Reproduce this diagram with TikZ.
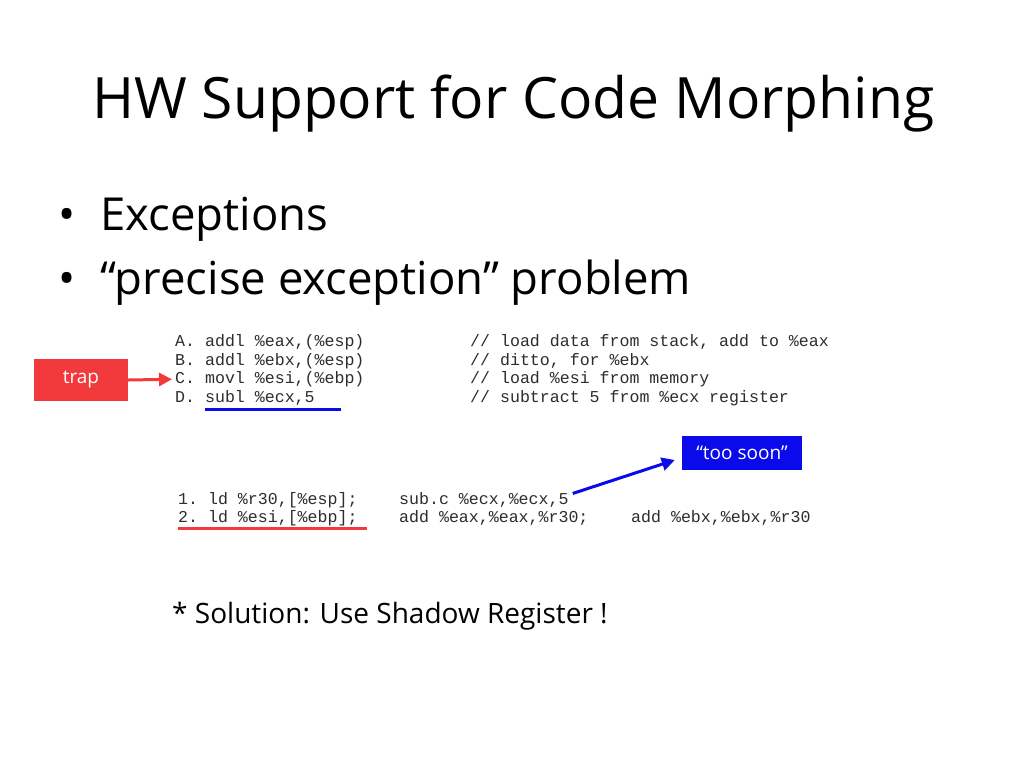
\documentclass[tikz,border=0pt]{standalone}
\usepackage{fontspec}
\setmainfont{Open Sans}
\setmonofont{Liberation Mono}
\usetikzlibrary{arrows.meta,positioning}

\definecolor{trapred}{RGB}{242,58,60}
\definecolor{soonblue}{RGB}{10,10,235}
\definecolor{codegray}{RGB}{45,45,45}

\tikzset{
  slidetext/.style={anchor=base west,inner sep=0pt},
  codeline/.style={anchor=base west,inner sep=0pt,text=codegray,
    font=\ttfamily\fontsize{16.6}{18}\selectfont},
  flagbox/.style={fill=#1,text=white,inner sep=0pt,
    font=\fontsize{19}{21}\selectfont},
  pointer/.style={#1,line width=3pt,-{Triangle[length=13pt,width=13pt]}},
}

\begin{document}
\begin{tikzpicture}[x=1pt,y=-1pt]
  \useasboundingbox[fill=white] (0,0) rectangle (1024,768);

  \node[slidetext,font=\fontsize{57}{64}\selectfont] (title) at (92,118) {HW Support for Code Morphing};

  \foreach \n/\y/\txt in {1/230/Exceptions,2/294/{“precise exception” problem}}{
    \node[slidetext,font=\fontsize{45.5}{50}\selectfont] (dot\n) at (58,\y) {•};
    \node[slidetext,font=\fontsize{45.5}{50}\selectfont] (item\n) at (100,\y) {\txt};
  }

  % x86 code
  \foreach \n/\y/\code/\note in {
      A/346.5/{A. addl \%eax,(\%esp)}/{// load data from stack, add to \%eax},
      B/365/{B. addl \%ebx,(\%esp)}/{// ditto, for \%ebx},
      C/383.5/{C. movl \%esi,(\%ebp)}/{// load \%esi from memory},
      D/402/{D. subl \%ecx,5}/{// subtract 5 from \%ecx register}}{
    \node[codeline] (x\n) at (175,\y) {\code};
    \node[codeline] (note\n) at (470,\y) {\note};
  }

  % translated code
  \node[codeline] (m1a) at (178,504) {1. ld \%r30,[\%esp];};
  \node[codeline] (m1b) at (399,504) {sub.c \%ecx,\%ecx,5};
  \node[codeline] (m2a) at (178,522.5) {2. ld \%esi,[\%ebp];};
  \node[codeline] (m2b) at (399,522.5) {add \%eax,\%eax,\%r30;};
  \node[codeline] (m2c) at (631,522.5) {add \%ebx,\%ebx,\%r30};

  \draw[soonblue,line width=3pt] (205,409) -- (341,409);
  \draw[trapred,line width=3pt] (178,528) -- (367,528);

  \node[flagbox=trapred,minimum width=94pt,minimum height=42pt] (trap) at (81,380) {trap};
  \node[flagbox=soonblue,minimum width=120pt,minimum height=34pt] (soon) at (742,453) {“too soon”};

  \draw[pointer=trapred,shorten >=3pt] (trap.east) -- (xC.west);
  \draw[pointer=soonblue] ([xshift=4pt,yshift=6pt]m1b.east) -- ([xshift=-7pt,yshift=-7pt]soon.west);

  \node[slidetext,font=\fontsize{28}{32}\selectfont] (fix) at (172,623) {* Solution: Use Shadow Register !};
\end{tikzpicture}
\end{document}
